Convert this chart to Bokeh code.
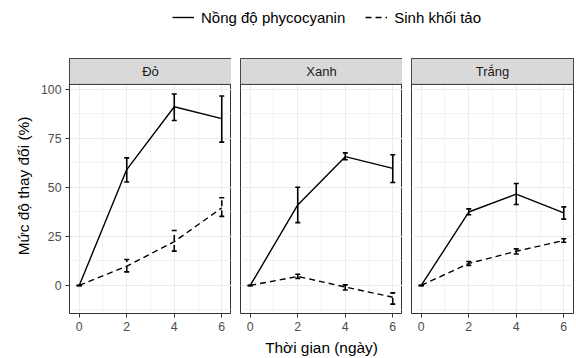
from bokeh.plotting import figure
from bokeh.models import (ColumnDataSource, Whisker, TeeHead, FixedTicker, Range1d,
                          BoxAnnotation, Label, Legend, LegendItem)
from bokeh.layouts import column, row
from bokeh.embed import file_html
from bokeh.resources import INLINE

days = [0, 2, 4, 6]
panels = ["Đỏ", "Xanh", "Trắng"]
series_names = ["Nồng độ phycocyanin", "Sinh khối tảo"]

phyco = {
    "Đỏ":    [0, 59.0, 91.0, 85.0],
    "Xanh":  [0, 41.0, 65.6, 59.6],
    "Trắng": [0, 37.4, 46.5, 37.0],
}
phyco_lo = {
    "Đỏ":    [0, 52.7, 84.0, 73.0],
    "Xanh":  [0, 32.0, 64.0, 52.4],
    "Trắng": [0, 36.0, 41.2, 33.8],
}
phyco_hi = {
    "Đỏ":    [0, 65.0, 97.5, 96.5],
    "Xanh":  [0, 50.0, 67.5, 66.6],
    "Trắng": [0, 39.0, 51.9, 40.0],
}
biomass = {
    "Đỏ":    [0, 9.8, 22.3, 39.5],
    "Xanh":  [0, 4.6, -0.8, -6.0],
    "Trắng": [0, 11.2, 17.4, 22.9],
}
biomass_lo = {
    "Đỏ":    [0, 6.9, 17.5, 35.2],
    "Xanh":  [0, 3.6, -2.3, -9.5],
    "Trắng": [0, 10.2, 16.0, 22.0],
}
biomass_hi = {
    "Đỏ":    [0, 13.2, 28.0, 44.7],
    "Xanh":  [0, 5.7, 0.3, -3.8],
    "Trắng": [0, 12.2, 18.6, 23.8],
}

x_ticks = [0, 2, 4, 6]
y_ticks = [0, 25, 50, 75, 100]

FONT = "Liberation Sans"
Y0, Y1 = -14.3, 102.4      # panel data range
STRIP_TOP = 115.6          # extended range for strip
X0, X1 = -0.41, 6.41
DASH = "6 4"

figs = []
widths = [69 + 162, 9 + 162, 9 + 162 + 3]
borders = [69, 9, 9]
for i, name in enumerate(panels):
    p = figure(width=widths[i], height=324, output_backend="svg", toolbar_location=None,
               x_range=Range1d(X0, X1), y_range=Range1d(Y0, STRIP_TOP),
               min_border_left=borders[i], min_border_right=3 if i == 2 else 0,
               min_border_top=24, min_border_bottom=45)
    p.outline_line_color = "#333333"
    p.outline_line_width = 1
    p.background_fill_color = "white"
    p.border_fill_color = "white"

    p.xaxis.ticker = FixedTicker(ticks=x_ticks, minor_ticks=[1, 3, 5])
    p.yaxis.ticker = FixedTicker(ticks=y_ticks, minor_ticks=[-12.5, 12.5, 37.5, 62.5, 87.5])
    for g in (p.xgrid, p.ygrid):
        g.grid_line_color = "#EBEBEB"
        g.grid_line_width = 1.1
        g.minor_grid_line_color = "#EBEBEB"
        g.minor_grid_line_width = 0.6

    for ax in (p.xaxis, p.yaxis):
        ax.axis_line_color = None
        ax.major_tick_line_color = "#333333"
        ax.major_tick_in = 0
        ax.major_tick_out = 4
        ax.minor_tick_line_color = None
        ax.major_label_text_font = FONT
        ax.major_label_text_font_size = "12.3px"
        ax.major_label_text_color = "#4D4D4D"
        ax.major_label_standoff = 4
        ax.axis_label_text_font = FONT
        ax.axis_label_text_font_size = "15.4px"
        ax.axis_label_text_font_style = "normal"
        ax.axis_label_text_color = "#000000"
    if i == 0:
        p.yaxis.axis_label = "Mức độ thay đổi (%)"
        p.yaxis.axis_label_standoff = 6
    else:
        p.yaxis.visible = False
    if i == 1:
        p.xaxis.axis_label = "Thời gian (ngày)"
        p.xaxis.axis_label_standoff = 5

    # phycocyanin
    src1 = ColumnDataSource(dict(x=days, y=phyco[name], lo=phyco_lo[name], hi=phyco_hi[name]))
    p.line("x", "y", source=src1, line_color="black", line_width=1.4)
    p.add_layout(Whisker(base="x", lower="lo", upper="hi", source=src1,
                         line_color="black", line_width=1.6,
                         lower_head=TeeHead(size=5, line_color="black", line_width=1.6),
                         upper_head=TeeHead(size=5, line_color="black", line_width=1.6)))
    # biomass
    src2 = ColumnDataSource(dict(x=days, y=biomass[name], lo=biomass_lo[name], hi=biomass_hi[name]))
    p.line("x", "y", source=src2, line_color="black", line_width=1.4, line_dash=DASH)
    p.add_layout(Whisker(base="x", lower="lo", upper="hi", source=src2,
                         line_color="black", line_width=1.6, line_dash=DASH,
                         lower_head=TeeHead(size=5, line_color="black", line_width=1.6),
                         upper_head=TeeHead(size=5, line_color="black", line_width=1.6)))

    # facet strip
    p.add_layout(BoxAnnotation(bottom=Y1, fill_color="#D9D9D9", fill_alpha=1.0,
                               line_color="#333333", line_width=1, line_alpha=1.0))
    p.add_layout(Label(x=(X0 + X1) / 2, y=(Y1 + STRIP_TOP) / 2, text=name,
                       text_align="center", text_baseline="middle",
                       text_font=FONT, text_font_size="13px", text_color="#1A1A1A"))
    figs.append(p)

# legend figure: dummy renderers use the real data but the view range excludes it
lg = figure(width=576, height=34, output_backend="svg", toolbar_location=None,
            x_range=Range1d(1000, 1001), y_range=Range1d(1000, 1001), min_border=0)
lg.axis.visible = False
lg.grid.visible = False
lg.outline_line_color = None
r1 = lg.line(x=days, y=phyco["Đỏ"], line_color="black", line_width=1.4)
r2 = lg.line(x=days, y=biomass["Đỏ"], line_color="black", line_width=1.4, line_dash=DASH)
legend = Legend(items=[LegendItem(label=series_names[0], renderers=[r1]),
                       LegendItem(label=series_names[1], renderers=[r2])],
                orientation="horizontal", location=(172, 8),
                border_line_color=None, background_fill_alpha=0,
                label_text_font=FONT, label_text_font_size="15px",
                label_text_color="#000000", label_height=18, glyph_height=18,
                glyph_width=22, label_standoff=7, spacing=20, padding=0, margin=0)
lg.add_layout(legend, "center")

layout = column(lg, row(*figs, spacing=0), spacing=0)
open("out.html", "w").write(file_html(layout, INLINE))
